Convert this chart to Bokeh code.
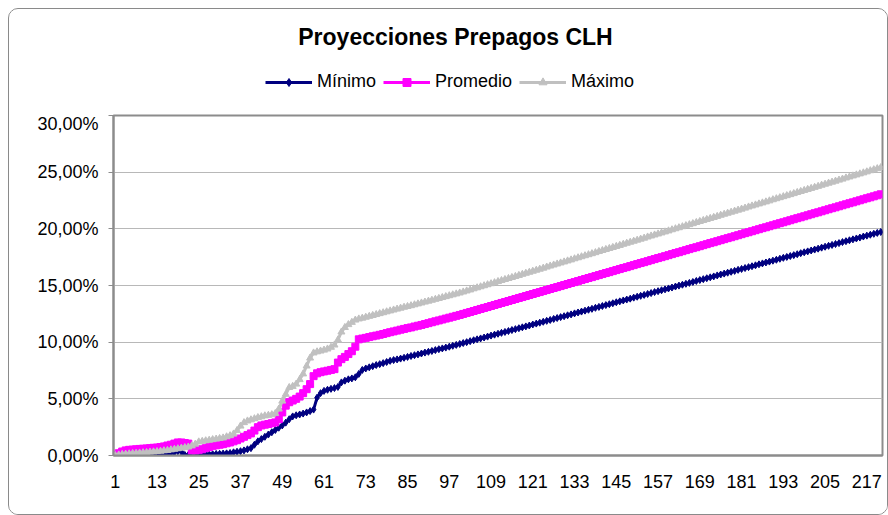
from bokeh.plotting import figure
from bokeh.layouts import column
from bokeh.models import (Range1d, FixedTicker, CustomJSTickFormatter, Legend,
                          LegendItem, Label)
from bokeh.embed import file_html
from bokeh.resources import INLINE

# ---------------- data (percent values) ----------------
periodos = list(range(1, 222))

x_tick_labels = [1, 13, 25, 37, 49, 61, 73, 85, 97, 109, 121, 133, 145, 157,
                 169, 181, 193, 205, 217]
y_ticks = [0, 5, 10, 15, 20, 25, 30]

minimo = [
    0.00, 0.02, 0.03, 0.05, 0.06, 0.06, 0.08, 0.08, 0.09, 0.10,
    0.10, 0.11, 0.12, 0.14, 0.15, 0.18, 0.22, 0.28, 0.38, 0.32,
    0.05, 0.05, 0.06, 0.06, 0.08, 0.09, 0.10, 0.11, 0.12, 0.14,
    0.15, 0.17, 0.19, 0.22, 0.28, 0.33, 0.38, 0.45, 0.55, 0.65,
    0.95, 1.25, 1.45, 1.65, 1.85, 2.05, 2.25, 2.45, 2.65, 2.90,
    3.20, 3.45, 3.55, 3.62, 3.70, 3.80, 3.92, 4.05, 5.10, 5.50,
    5.70, 5.80, 5.88, 5.95, 6.05, 6.45, 6.60, 6.72, 6.80, 6.90,
    7.20, 7.55, 7.68, 7.78, 7.88, 7.98, 8.06, 8.15, 8.25, 8.35,
    8.42, 8.48, 8.55, 8.62, 8.70, 8.78, 8.85, 8.92, 9.00, 9.08,
    9.15, 9.22, 9.30, 9.38, 9.45, 9.52, 9.60, 9.68, 9.76, 9.84,
    9.92, 10.00, 10.09, 10.17, 10.25, 10.33, 10.41, 10.49, 10.58, 10.66,
    10.74, 10.82, 10.90, 10.98, 11.07, 11.15, 11.23, 11.31, 11.39, 11.47,
    11.56, 11.64, 11.72, 11.80, 11.88, 11.96, 12.05, 12.13, 12.21, 12.29,
    12.37, 12.45, 12.54, 12.62, 12.70, 12.78, 12.86, 12.94, 13.03, 13.11,
    13.19, 13.27, 13.35, 13.43, 13.52, 13.60, 13.68, 13.76, 13.84, 13.93,
    14.01, 14.09, 14.17, 14.25, 14.33, 14.42, 14.50, 14.58, 14.66, 14.74,
    14.82, 14.91, 14.99, 15.07, 15.15, 15.23, 15.31, 15.40, 15.48, 15.56,
    15.64, 15.72, 15.80, 15.89, 15.97, 16.05, 16.13, 16.21, 16.29, 16.38,
    16.46, 16.54, 16.62, 16.70, 16.78, 16.87, 16.95, 17.03, 17.11, 17.19,
    17.27, 17.36, 17.44, 17.52, 17.60, 17.68, 17.76, 17.85, 17.93, 18.01,
    18.09, 18.17, 18.25, 18.34, 18.42, 18.50, 18.58, 18.66, 18.74, 18.83,
    18.91, 18.99, 19.07, 19.15, 19.23, 19.32, 19.40, 19.48, 19.56, 19.64, 19.72,
]

promedio = [
    0.05, 0.20, 0.35, 0.45, 0.50, 0.52, 0.55, 0.58, 0.60, 0.62,
    0.65, 0.68, 0.70, 0.75, 0.80, 0.88, 0.95, 1.05, 1.15, 1.15,
    1.10, 1.05, 0.45, 0.45, 0.50, 0.55, 0.65, 0.75, 0.85, 0.90,
    0.95, 1.00, 1.08, 1.15, 1.25, 1.35, 1.50, 1.65, 1.80, 1.95,
    2.20, 2.50, 2.65, 2.72, 2.78, 2.85, 2.92, 3.20, 3.80, 4.40,
    4.70, 4.85, 5.00, 5.20, 5.50, 5.85, 6.30, 7.00, 7.25, 7.35,
    7.42, 7.48, 7.55, 7.62, 8.20, 8.50, 8.70, 8.95, 9.20, 9.60,
    10.25, 10.32, 10.38, 10.45, 10.52, 10.58, 10.65, 10.72, 10.80, 10.88,
    10.95, 11.02, 11.10, 11.17, 11.24, 11.30, 11.38, 11.45, 11.52, 11.60,
    11.68, 11.76, 11.84, 11.92, 12.00, 12.08, 12.16, 12.24, 12.32, 12.40,
    12.49, 12.58, 12.66, 12.75, 12.84, 12.93, 13.02, 13.10, 13.19, 13.28,
    13.37, 13.46, 13.54, 13.63, 13.72, 13.81, 13.90, 13.98, 14.07, 14.16,
    14.25, 14.34, 14.42, 14.51, 14.60, 14.69, 14.78, 14.86, 14.95, 15.04,
    15.13, 15.22, 15.30, 15.39, 15.48, 15.57, 15.66, 15.74, 15.83, 15.92,
    16.01, 16.10, 16.18, 16.27, 16.36, 16.45, 16.54, 16.62, 16.71, 16.80,
    16.89, 16.98, 17.06, 17.15, 17.24, 17.33, 17.42, 17.50, 17.59, 17.68,
    17.77, 17.86, 17.94, 18.03, 18.12, 18.21, 18.30, 18.38, 18.47, 18.56,
    18.65, 18.74, 18.82, 18.91, 19.00, 19.09, 19.18, 19.26, 19.35, 19.44,
    19.53, 19.62, 19.70, 19.79, 19.88, 19.97, 20.06, 20.14, 20.23, 20.32,
    20.41, 20.50, 20.58, 20.67, 20.76, 20.85, 20.94, 21.02, 21.11, 21.20,
    21.29, 21.38, 21.46, 21.55, 21.64, 21.73, 21.82, 21.90, 21.99, 22.08,
    22.17, 22.26, 22.34, 22.43, 22.52, 22.61, 22.70, 22.78, 22.87, 22.96, 23.05,
]

maximo = [
    0.00, 0.05, 0.10, 0.12, 0.15, 0.18, 0.20, 0.22, 0.25, 0.27,
    0.30, 0.32, 0.35, 0.38, 0.42, 0.45, 0.50, 0.55, 0.60, 0.65,
    0.70, 0.75, 0.85, 1.00, 1.20, 1.25, 1.30, 1.35, 1.40, 1.45,
    1.50, 1.55, 1.65, 1.75, 1.90, 2.20, 2.60, 2.90, 3.05, 3.15,
    3.25, 3.35, 3.42, 3.50, 3.55, 3.60, 3.70, 4.10, 4.80, 5.40,
    6.00, 6.10, 6.30, 6.70, 7.20, 7.90, 8.60, 9.05, 9.15, 9.22,
    9.30, 9.40, 9.55, 9.75, 10.20, 10.90, 11.30, 11.55, 11.75, 11.95,
    12.05, 12.12, 12.20, 12.28, 12.36, 12.44, 12.52, 12.60, 12.68, 12.76,
    12.84, 12.92, 13.00, 13.08, 13.15, 13.22, 13.30, 13.38, 13.46, 13.54,
    13.62, 13.70, 13.78, 13.86, 13.94, 14.02, 14.10, 14.18, 14.26, 14.34,
    14.43, 14.52, 14.61, 14.71, 14.80, 14.89, 14.98, 15.07, 15.16, 15.25,
    15.35, 15.44, 15.53, 15.62, 15.71, 15.80, 15.89, 15.99, 16.08, 16.17,
    16.26, 16.35, 16.44, 16.53, 16.63, 16.72, 16.81, 16.90, 16.99, 17.08,
    17.17, 17.26, 17.36, 17.45, 17.54, 17.63, 17.72, 17.81, 17.90, 18.00,
    18.09, 18.18, 18.27, 18.36, 18.45, 18.54, 18.64, 18.73, 18.82, 18.91,
    19.00, 19.09, 19.18, 19.28, 19.37, 19.46, 19.55, 19.64, 19.73, 19.82,
    19.92, 20.01, 20.10, 20.19, 20.28, 20.37, 20.46, 20.56, 20.65, 20.74,
    20.83, 20.92, 21.01, 21.10, 21.20, 21.29, 21.38, 21.47, 21.56, 21.65,
    21.74, 21.83, 21.93, 22.02, 22.11, 22.20, 22.29, 22.38, 22.47, 22.57,
    22.66, 22.75, 22.84, 22.93, 23.02, 23.11, 23.21, 23.30, 23.39, 23.48,
    23.57, 23.66, 23.75, 23.85, 23.94, 24.03, 24.12, 24.21, 24.30, 24.39,
    24.49, 24.58, 24.67, 24.76, 24.85, 24.94, 25.03, 25.13, 25.22, 25.31, 25.40,
]

title_text = "Proyecciones Prepagos CLH"
series_names = ["Mínimo", "Promedio", "Máximo"]
series_colors = ["#000080", "#FF00FF", "#C0C0C0"]
series_markers = ["diamond", "square", "triangle"]
series_values = [minimo, promedio, maximo]

FONT = "Liberation Sans"
AXIS_GRAY = "#8c8c8c"
W = 878
HEAD_H = 104
MAIN_H = 401

# ---------------- header: title + legend ----------------
# (its frame is aligned with the chart frame by the column layout;
#  its x range lies outside the data, so the series only feed the legend)
head = figure(width=W, height=HEAD_H, output_backend="svg",
              toolbar_location=None, x_axis_location=None,
              y_axis_location=None, x_range=Range1d(-3, -2),
              y_range=Range1d(0, 1), min_border=0)
head.outline_line_color = None
head.grid.visible = False
head.background_fill_color = "white"
head.border_fill_color = "white"

head.add_layout(Label(x=342, y=HEAD_H - 27, x_units="screen", y_units="screen",
                      text=title_text, text_font=FONT,
                      text_font_style="bold", text_font_size="23px",
                      text_align="center", text_baseline="middle",
                      text_color="black"))

items = []
for name, ys, col, mk in zip(series_names, series_values, series_colors,
                             series_markers):
    lr = head.line(periodos, ys, line_color=col, line_width=3)
    mr = head.scatter(periodos, ys, marker=mk, size=7, fill_color=col,
                      line_color=col)
    items.append(LegendItem(label=name, renderers=[lr, mr]))

legend = Legend(items=items, orientation="horizontal",
                location=(152, HEAD_H - 83),
                glyph_width=47, glyph_height=20, label_standoff=5, spacing=7,
                padding=0, margin=0, border_line_color=None,
                background_fill_alpha=0, label_text_font=FONT,
                label_text_font_size="18px", label_height=20,
                label_text_color="black")
head.add_layout(legend)

# ---------------- main chart ----------------
p = figure(width=W, height=MAIN_H, output_backend="svg", toolbar_location=None,
           x_range=Range1d(0.5, 221.5), y_range=Range1d(0, 30),
           min_border_left=104, min_border_right=5,
           min_border_top=2, min_border_bottom=59)
p.background_fill_color = "white"
p.border_fill_color = "white"
p.outline_line_color = AXIS_GRAY
p.outline_line_width = 2

for ys, col, mk in zip(series_values, series_colors, series_markers):
    p.line(periodos, ys, line_color=col, line_width=3)
    p.scatter(periodos, ys, marker=mk, size=7, fill_color=col, line_color=col)

p.xaxis.ticker = FixedTicker(ticks=x_tick_labels)
p.xaxis.major_tick_out = 0
p.xaxis.major_tick_in = 0
p.xaxis.minor_tick_out = 0
p.xaxis.minor_tick_in = 0
p.xaxis.axis_line_color = AXIS_GRAY
p.xaxis.axis_line_width = 2
p.xaxis.major_label_text_font = FONT
p.xaxis.major_label_text_font_size = "18px"
p.xaxis.major_label_text_color = "black"
p.xaxis.major_label_standoff = 19

p.yaxis.ticker = FixedTicker(ticks=y_ticks)
p.yaxis.formatter = CustomJSTickFormatter(
    code="return tick.toFixed(2).replace('.', ',') + '%';")
p.yaxis.major_tick_out = 5
p.yaxis.major_tick_in = 0
p.yaxis.minor_tick_out = 0
p.yaxis.minor_tick_in = 0
p.yaxis.major_tick_line_color = AXIS_GRAY
p.yaxis.axis_line_color = AXIS_GRAY
p.yaxis.axis_line_width = 2
p.yaxis.major_label_text_font = FONT
p.yaxis.major_label_text_font_size = "18px"
p.yaxis.major_label_text_color = "black"
p.yaxis.major_label_standoff = 10

p.xgrid.grid_line_color = None
p.ygrid.grid_line_color = "#b8b8b8"
p.ygrid.grid_line_width = 1

layout = column(head, p, spacing=0)
layout.styles = {"margin-left": "8px", "margin-top": "8px",
                 "border": "1px solid #8a8a8a", "border-radius": "10px",
                 "overflow": "hidden", "background-color": "white"}

open("out.html", "w").write(file_html(layout, INLINE))
